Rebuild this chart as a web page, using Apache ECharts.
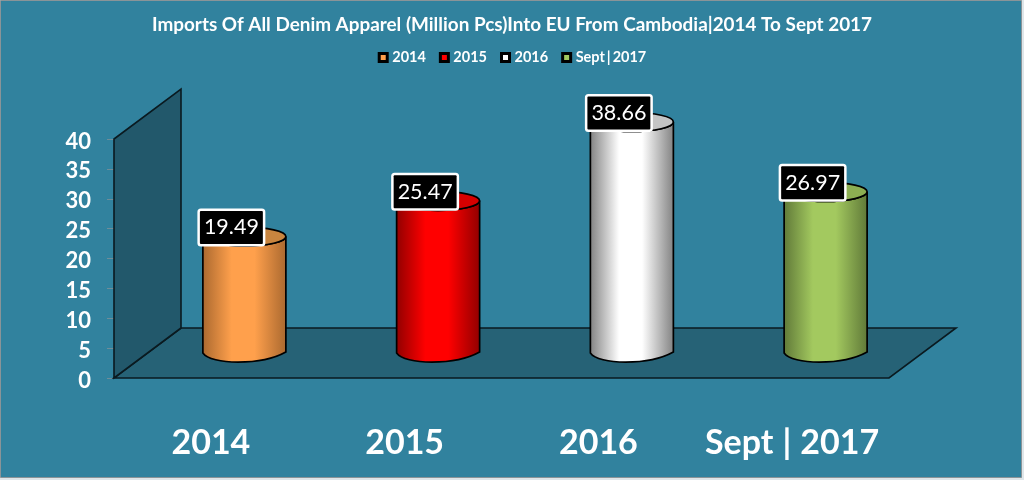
<!DOCTYPE html>
<html>
<head>
<meta charset="utf-8">
<style>html,body{margin:0;padding:0;background:#dfe6e9}#c{width:1024px;height:480px}</style>
<script src="https://cdn.jsdelivr.net/npm/echarts@6/dist/echarts.min.js"></script>
</head>
<body>
<div id="c"></div>
<script>
var titleText = 'Imports Of All Denim Apparel (Million Pcs)Into EU From Cambodia|2014 To Sept 2017';
var categories = ['2014', '2015', '2016', 'Sept|2017'];
var values = [19.49, 25.47, 38.66, 26.97];
var sideEdge = ['#a9682f', '#8f0000', '#808080', '#5f7838'];
var sideMid = ['#ffa04c', '#ff0000', '#ffffff', '#a3c95f'];
var topFill = ['#c9853f', '#d60000', '#c4c4c4', '#8cae52'];
var yTicks = { min: 0, max: 40, interval: 5 };

var FONT = 'Lato, "Open Sans", sans-serif';
var DX = 67, DY = 50;         // depth of the 3D floor
var RX = 41.5, RY = 9.5;      // cylinder ellipse radii

function renderRoom(params, api) {
  var c = params.coordSys;
  var x0 = c.x, y0 = c.y, w = c.width, h = c.height, yb = y0 + h;
  var st = { fill: '#22586b', stroke: '#0a1a20', lineWidth: 1.6 };
  return {
    type: 'group',
    children: [
      { type: 'polygon', shape: { points: [[x0, yb], [x0 + DX, yb - DY], [x0 + w + DX, yb - DY], [x0 + w, yb]] },
        style: { fill: '#266276', stroke: '#0a1a20', lineWidth: 1.6 } },
      { type: 'polygon', shape: { points: [[x0, y0], [x0 + DX, y0 - DY], [x0 + DX, yb - DY], [x0, yb]] }, style: st }
    ]
  };
}

function renderCylinder(i) {
  return function (params, api) {
    var top = api.coord([i, api.value(1)]);
    var base = api.coord([i, 0]);
    var cx = top[0] + DX / 2, ty = top[1] - DY / 2, by = base[1] - DY / 2;
    var l = cx - RX, r = cx + RX;
    var side = 'M' + l + ' ' + ty + ' L' + l + ' ' + by +
      ' C' + (l + 8) + ' ' + (by + RY * 1.25) + ' ' + (r - 25) + ' ' + (by + RY * 1.35) + ' ' + r + ' ' + (by - 1) +
      ' L' + r + ' ' + ty +
      ' A' + RX + ' ' + RY + ' 0 0 1 ' + l + ' ' + ty + ' Z';
    var grad = { type: 'linear', x: 0, y: 0, x2: 1, y2: 0, colorStops: [
      { offset: 0, color: sideEdge[i] }, { offset: 0.35, color: sideMid[i] },
      { offset: 0.62, color: sideMid[i] }, { offset: 1, color: sideEdge[i] } ] };
    return {
      type: 'group',
      children: [
        { type: 'path', shape: { pathData: side }, style: { fill: grad, stroke: '#000', lineWidth: 1.7 } },
        { type: 'ellipse', shape: { cx: cx, cy: ty, rx: RX, ry: RY }, style: { fill: topFill[i], stroke: '#000', lineWidth: 1.7 } },
        { type: 'text', z2: 50, style: {
            text: values[i].toFixed(2), x: cx - 13, y: ty - 9,
            align: 'center', verticalAlign: 'middle',
            font: '21.5px ' + FONT, fill: '#fff',
            backgroundColor: '#000', borderColor: '#fff', borderWidth: 2.5, borderRadius: 1,
            padding: [6, 4, 5, 4]
        } }
      ]
    };
  };
}

function pipeRich(name) {
  var parts = name.split('|');
  return parts.length === 2 ? '{t|' + parts[0] + '}{p||}{t|' + parts[1] + '}' : '{t|' + name + '}';
}

var series = [{
  type: 'custom', name: 'room', silent: true, z: 1, clip: false,
  coordinateSystem: 'cartesian2d', renderItem: renderRoom, data: [[0, 0]]
}];
categories.forEach(function (name, i) {
  series.push({
    type: 'custom', name: name, z: 3 + i, clip: false, coordinateSystem: 'cartesian2d',
    renderItem: renderCylinder(i), itemStyle: { color: sideMid[i] },
    encode: { x: 0, y: 1 }, data: [[i, values[i]]]
  });
});

function txt(size) { return { color: '#fff', fontFamily: FONT, fontWeight: 'bold', fontSize: size }; }
function pipe(size, pad) { var s = txt(size); s.padding = [0, pad, 0, pad]; return s; }

var chart = echarts.init(document.getElementById('c'), null, { renderer: 'canvas' });
chart.setOption({
  animation: false,
  backgroundColor: '#dfe6e9',
  graphic: [{ type: 'rect', z: -10, silent: true, shape: { x: 0.5, y: 0.5, width: 1021, height: 477 },
    style: { fill: '#31829e', stroke: '#8a9498', lineWidth: 1 } }],
  title: { text: titleText, left: 'center', top: 10, textStyle: txt(18.9) },
  legend: {
    data: categories, top: 45, left: 'center', itemWidth: 8, itemHeight: 8, itemGap: 13,
    icon: 'rect',
    itemStyle: { borderColor: '#000', borderWidth: 3 },
    formatter: pipeRich,
    textStyle: { color: '#fff', rich: { t: txt(14.5), p: pipe(14.5, 2) } }
  },
  grid: { left: 114, top: 139, width: 775, height: 239 },
  xAxis: {
    type: 'category', data: categories,
    axisLine: { show: false }, axisTick: { show: false }, splitLine: { show: false },
    axisLabel: { interval: 0, margin: 48, formatter: pipeRich, rich: { t: txt(34), p: pipe(34, 9) } }
  },
  yAxis: {
    type: 'value', min: yTicks.min, max: yTicks.max, interval: yTicks.interval,
    axisLine: { show: false }, splitLine: { show: false },
    axisTick: { show: true, length: 7, lineStyle: { color: '#6f8d99', width: 1 } },
    axisLabel: { color: '#fff', fontFamily: FONT, fontWeight: 'bold', fontSize: 22, margin: 23, lineHeight: 22,
      formatter: '{v|{value}}', rich: { v: { color: '#fff', fontFamily: FONT, fontWeight: 'bold', fontSize: 22, padding: [5, 0, 0, 0] } } }
  },
  series: series
});
</script>
</body>
</html>
